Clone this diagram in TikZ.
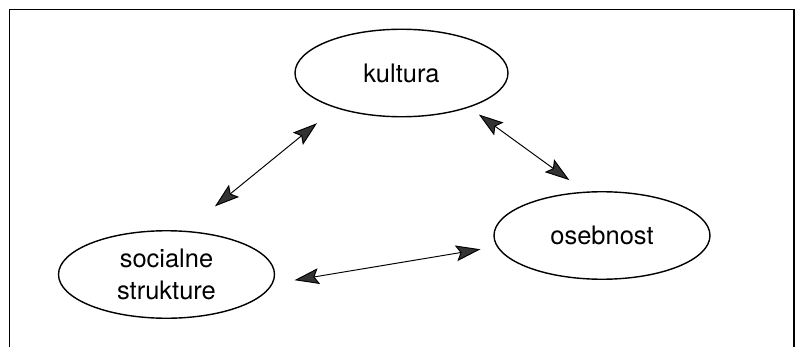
\documentclass[tikz,border=0pt]{standalone}
\usepackage{fontspec}
\setmainfont{TeX Gyre Heros}
\usepackage{tikz}
\usetikzlibrary{shapes,arrows.meta}
\tikzstyle{oval} = [ellipse, draw, line width=0.8pt, inner sep=0pt,
    text centered, minimum width=4.32cm, minimum height=1.75cm,
    font=\fontsize{14.5}{18}\selectfont]
\tikzstyle{twoway} = [draw, line width=0.55pt,
    {Stealth[length=14pt,width=9pt,inset=2.5pt,fill=black!80]}-{Stealth[length=14pt,width=9pt,inset=2.5pt,fill=black!80]}]

\begin{document}
\begin{tikzpicture}
\useasboundingbox (0,0) rectangle (15.98,6.92);
\draw [line width=0.8pt] (0.19,-0.1) -- (0.19,6.73) -- (15.88,6.73) -- (15.88,-0.1);

\node [oval, minimum width=4.26cm] at (8.03,5.46) (kultura) {kultura};
\node [oval, text width=3cm] at (3.33,1.43) (socialne) {socialne\\strukture};
\node [oval] at (12.04,2.21) (osebnost) {osebnost};

\draw [twoway, shorten <=0.48cm, shorten >=0.77cm] (kultura.208) -- (socialne.67);
\draw [twoway, shorten <=0.24cm, shorten >=0.39cm] (kultura.333) -- (osebnost.111);
\draw [twoway, shorten <=0.44cm, shorten >=0.33cm] (socialne.355) -- (osebnost.186);
\end{tikzpicture}
\end{document}
